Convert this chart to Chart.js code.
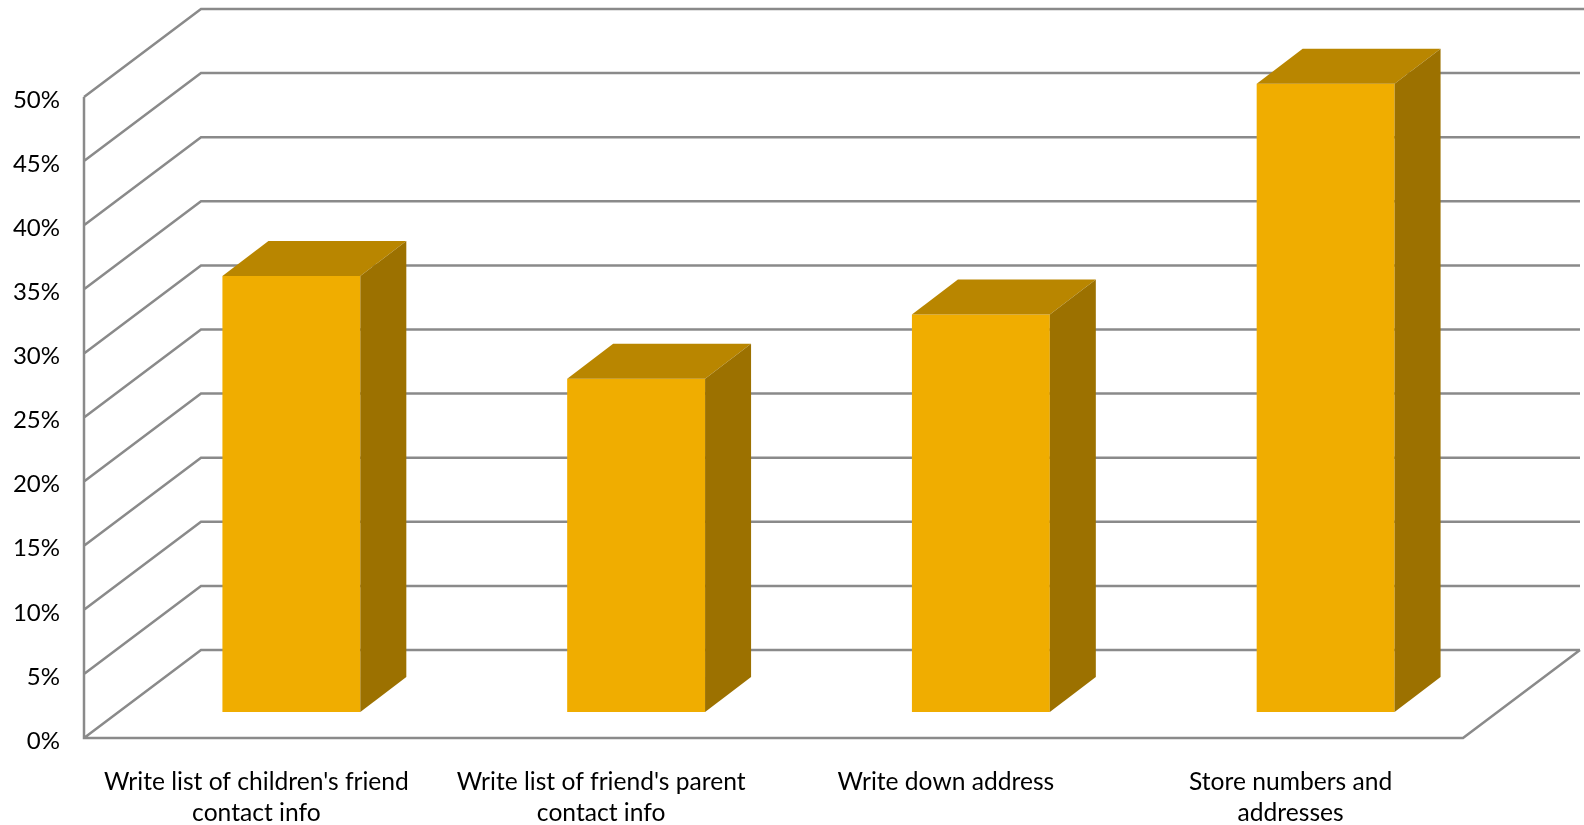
<!DOCTYPE html>
<html>
<head>
<meta charset="utf-8">
<script src="https://cdn.jsdelivr.net/npm/chart.js"></script>
<style>
  html, body { margin: 0; padding: 0; background: #fff; }
  #wrap { width: 1584px; height: 825px; position: relative; }
</style>
</head>
<body>
<div id="wrap"><canvas id="chart"></canvas></div>
<script>
// data
const categories = [
  ["Write list of children's friend", "contact info"],
  ["Write list of friend's parent", "contact info"],
  "Write down address",
  ["Store numbers and", "addresses"]
];
const shares = [34, 26, 31, 49];
const yTicks = [0, 5, 10, 15, 20, 25, 30, 35, 40, 45, 50];

// colours
const FRONT = '#f0ad00';
const TOP = '#b98600';
const SIDE = '#9c7100';
const GRID = '#8a8a8a';

// fake 3d: bars sit on a plane between the front edge and the back wall
const FRONT_OFF = { x: -35, y: 26 };
const BACK_OFF = { x: 82, y: -62 };
const BAR_DEPTH = { x: 46, y: 35 };

const walls = {
  id: 'walls',
  beforeDatasetsDraw(chart) {
    const { ctx, chartArea: a, scales: { y } } = chart;
    const fx = a.left + FRONT_OFF.x;
    const fxr = a.right + FRONT_OFF.x;
    const bx = a.left + BACK_OFF.x;
    const bxr = a.right + BACK_OFF.x;
    const y0 = y.getPixelForValue(0);
    const yTop = y.getPixelForValue(yTicks[yTicks.length - 1]);
    ctx.save();
    ctx.strokeStyle = GRID;
    ctx.lineWidth = 2.5;
    ctx.lineJoin = 'miter';
    ctx.beginPath();
    yTicks.forEach(v => {
      const py = y.getPixelForValue(v);
      ctx.moveTo(fx, py + FRONT_OFF.y);
      ctx.lineTo(bx, py + BACK_OFF.y);
      ctx.lineTo(v === yTicks[yTicks.length - 1] ? chart.width : bxr, py + BACK_OFF.y);
    });
    // front axis + floor
    ctx.moveTo(fx, yTop + FRONT_OFF.y);
    ctx.lineTo(fx, y0 + FRONT_OFF.y);
    ctx.lineTo(fxr, y0 + FRONT_OFF.y);
    ctx.lineTo(bxr, y0 + BACK_OFF.y);
    ctx.stroke();
    ctx.restore();
  }
};

const boxes = {
  id: 'boxes',
  afterDatasetsDraw(chart) {
    const { ctx } = chart;
    const dx = BAR_DEPTH.x, dy = BAR_DEPTH.y;
    ctx.save();
    chart.getDatasetMeta(0).data.forEach(bar => {
      const { x, y, base, width } = bar.getProps(['x', 'y', 'base', 'width'], true);
      const l = x - width / 2, r = x + width / 2;
      // top
      ctx.fillStyle = TOP;
      ctx.beginPath();
      ctx.moveTo(l, y);
      ctx.lineTo(r, y);
      ctx.lineTo(r + dx, y - dy);
      ctx.lineTo(l + dx, y - dy);
      ctx.closePath();
      ctx.fill();
      // side
      ctx.fillStyle = SIDE;
      ctx.beginPath();
      ctx.moveTo(r, y);
      ctx.lineTo(r + dx, y - dy);
      ctx.lineTo(r + dx, base - dy);
      ctx.lineTo(r, base);
      ctx.closePath();
      ctx.fill();
    });
    ctx.restore();
  }
};

new Chart(document.getElementById('chart'), {
  type: 'bar',
  data: {
    labels: categories,
    datasets: [{
      data: shares,
      backgroundColor: FRONT,
      borderWidth: 0,
      barPercentage: 0.4,
      categoryPercentage: 1
    }]
  },
  options: {
    responsive: true,
    maintainAspectRatio: false,
    animation: false,
    layout: { padding: { top: 71, right: 86, left: 0, bottom: 0 } },
    plugins: {
      legend: { display: false },
      tooltip: { enabled: false }
    },
    scales: {
      x: {
        grid: { display: false, drawTicks: false },
        border: { display: false },
        afterFit: s => { s.height = 113; },
        ticks: {
          autoSkip: false,
          maxRotation: 0,
          labelOffset: FRONT_OFF.x,
          padding: 54,
          color: '#000',
          font: { family: 'Lato', size: 24.6, lineHeight: 1.27 }
        }
      },
      y: {
        min: 0,
        max: 50,
        grid: { display: false, drawTicks: false },
        border: { display: false },
        // tick padding would otherwise also pad the top of the chart area
        afterFit: s => { s.width = 119; s.paddingTop = 0; s.paddingBottom = 0; },
        afterBuildTicks: s => { s.ticks = yTicks.map(v => ({ value: v })); },
        ticks: {
          labelOffset: FRONT_OFF.y + 3,
          padding: 59,
          color: '#000',
          font: { family: 'Lato', size: 24 },
          callback: v => v + '%'
        }
      }
    }
  },
  plugins: [walls, boxes]
});
</script>
</body>
</html>
